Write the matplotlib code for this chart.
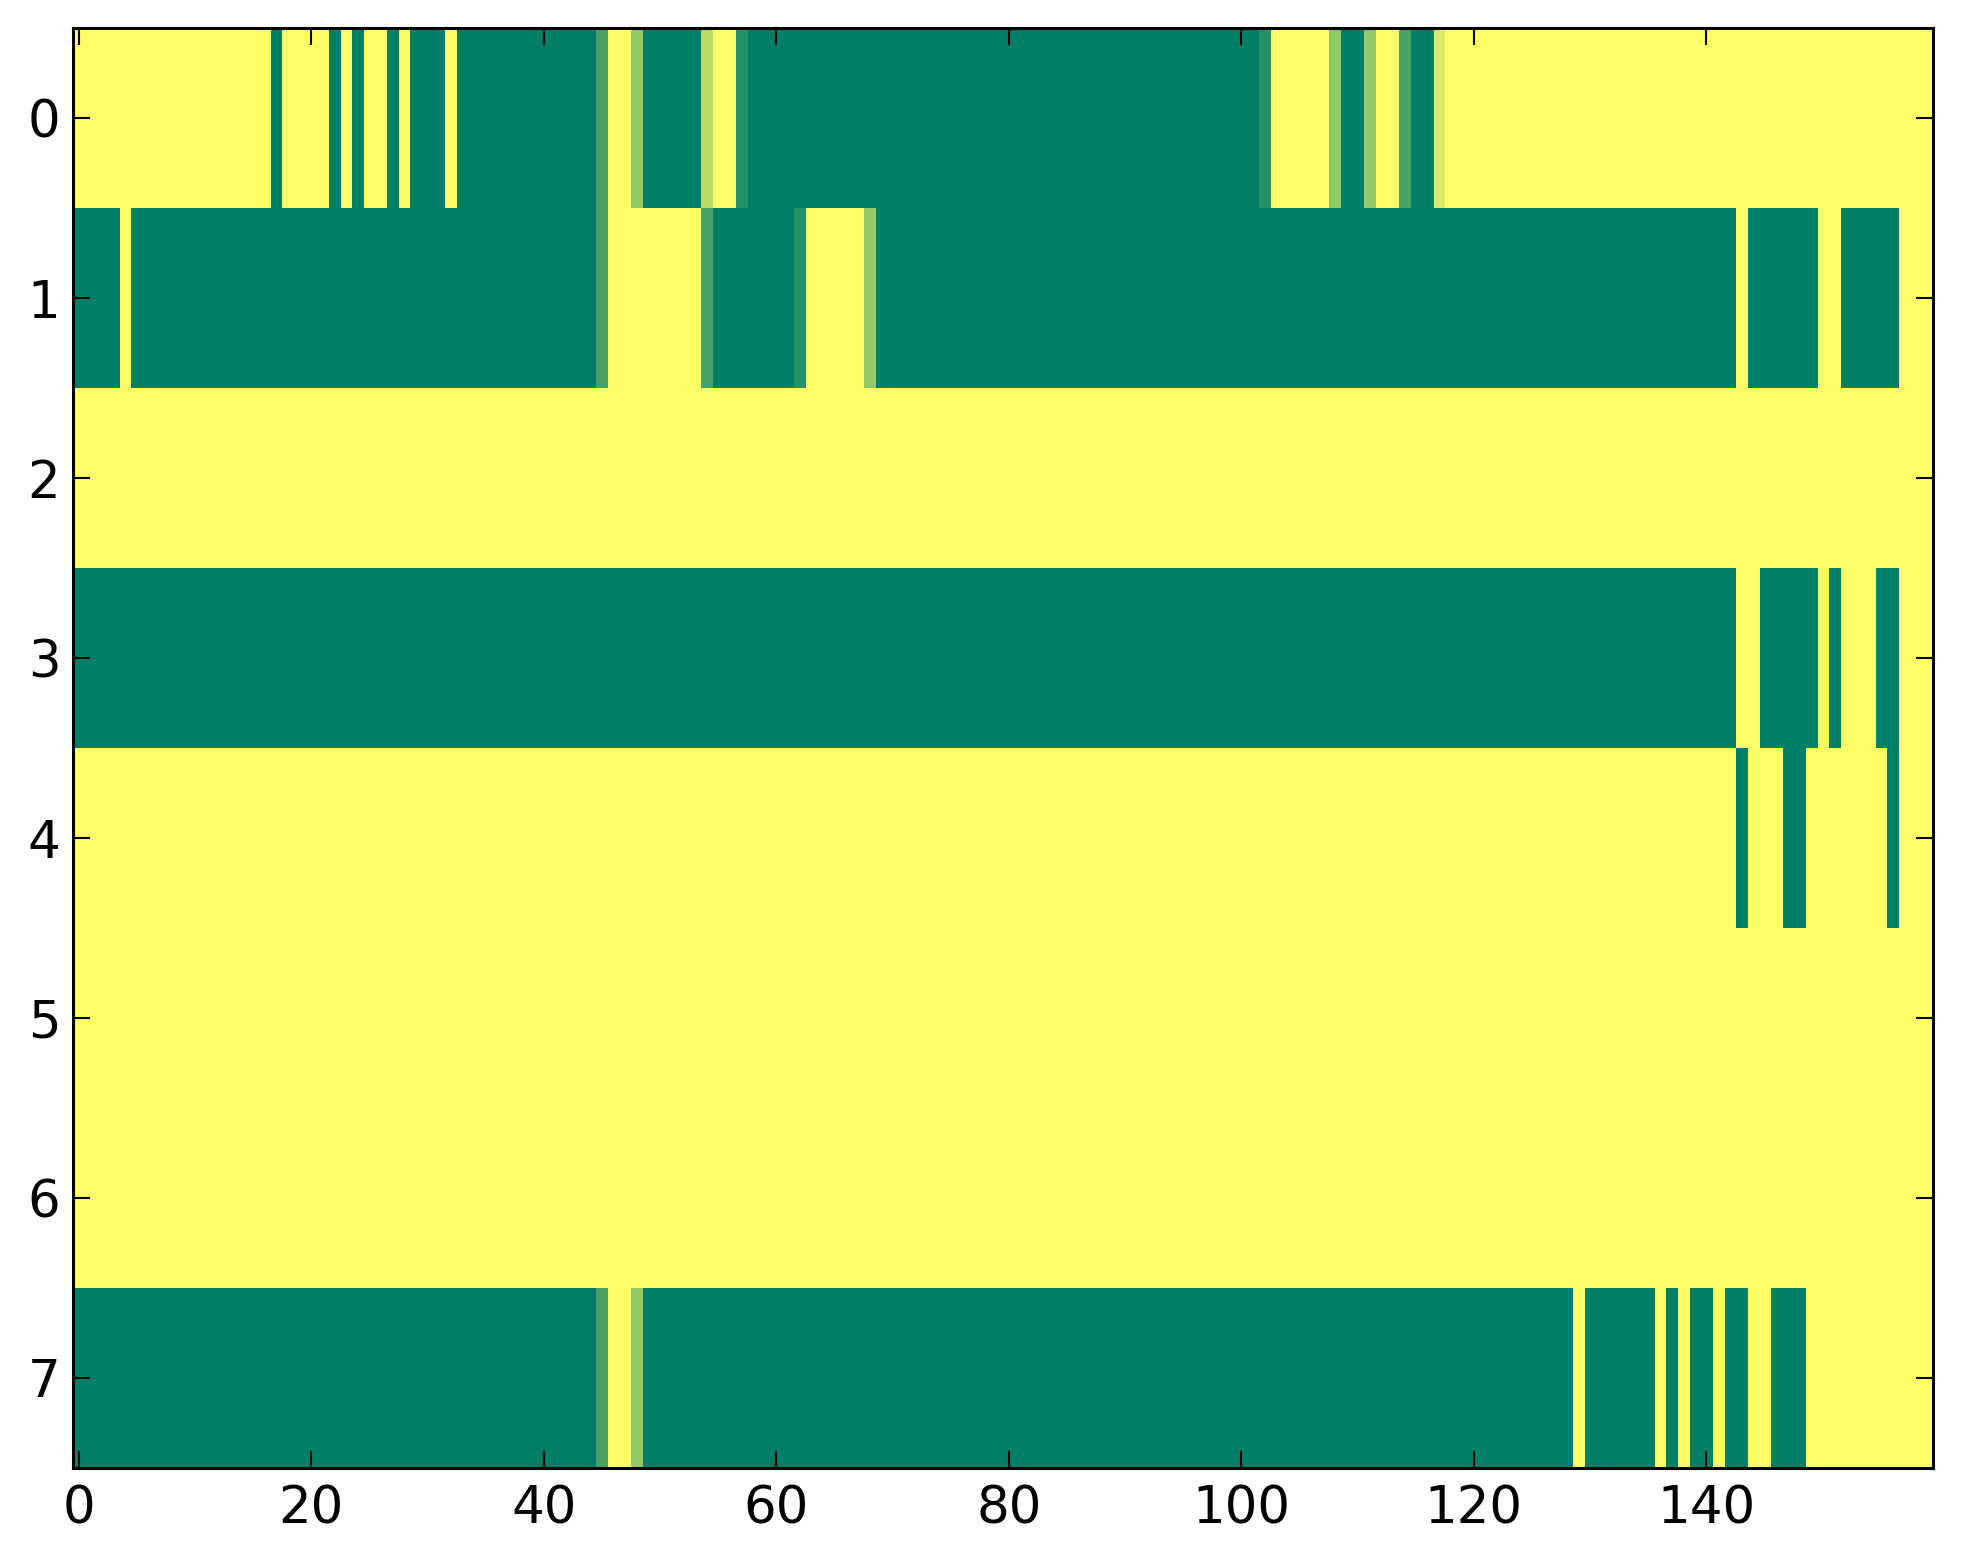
import numpy as np
import matplotlib
matplotlib.use('Agg')
import matplotlib.pyplot as plt

# run-length encoded rows: (value, count), values in sevenths
row0 = [(1, 17), (0, 1), (1, 4), (0, 1), (1, 1), (0, 1), (1, 2), (0, 1), (1, 1),
        (0, 3), (1, 1), (0, 12), (2/7, 1), (1, 2), (4/7, 1), (0, 5), (5/7, 1),
        (1, 2), (1/7, 1), (0, 44), (1/7, 1), (1, 5), (4/7, 1), (0, 2), (4/7, 1),
        (1, 2), (2/7, 1), (0, 2), (6/7, 1), (1, 42)]
row1 = [(0, 4), (1, 1), (0, 40), (2/7, 1), (1, 8), (2/7, 1), (0, 7), (1/7, 1),
        (1, 5), (4/7, 1), (0, 74), (1, 1), (0, 6), (1, 2), (0, 5), (1, 3)]
row2 = [(1, 160)]
row3 = [(0, 143), (1, 2), (0, 5), (1, 1), (0, 1), (1, 3), (0, 2), (1, 3)]
row4 = [(1, 143), (0, 1), (1, 3), (0, 2), (1, 7), (0, 1), (1, 3)]
row5 = [(1, 160)]
row6 = [(1, 160)]
row7 = [(0, 45), (2/7, 1), (1, 2), (4/7, 1), (0, 80), (1, 1), (0, 6), (1, 1),
        (0, 1), (1, 1), (0, 2), (1, 1), (0, 2), (1, 2), (0, 3), (1, 11)]

rows = [row0, row1, row2, row3, row4, row5, row6, row7]
data = np.array([np.repeat([v for v, n in r], [n for v, n in r]) for r in rows])

x_ticks = [0, 20, 40, 60, 80, 100, 120, 140]
y_ticks = list(range(8))

fig = plt.figure(figsize=(19.63, 15.64), dpi=100)
ax = fig.add_axes([0.0371, 0.0614, 0.9476, 0.9205])
ax.imshow(data, cmap='summer', aspect='auto', interpolation='nearest',
          vmin=0, vmax=1)

ax.set_xticks(x_ticks)
ax.set_yticks(y_ticks)
ax.tick_params(direction='in', top=True, right=True, length=12, width=1.5,
               labelsize=37)
ax.tick_params(axis='x', pad=12)
ax.tick_params(axis='y', pad=9)
for s in ax.spines.values():
    s.set_linewidth(2.2)

fig.savefig('out.png', dpi=100)
